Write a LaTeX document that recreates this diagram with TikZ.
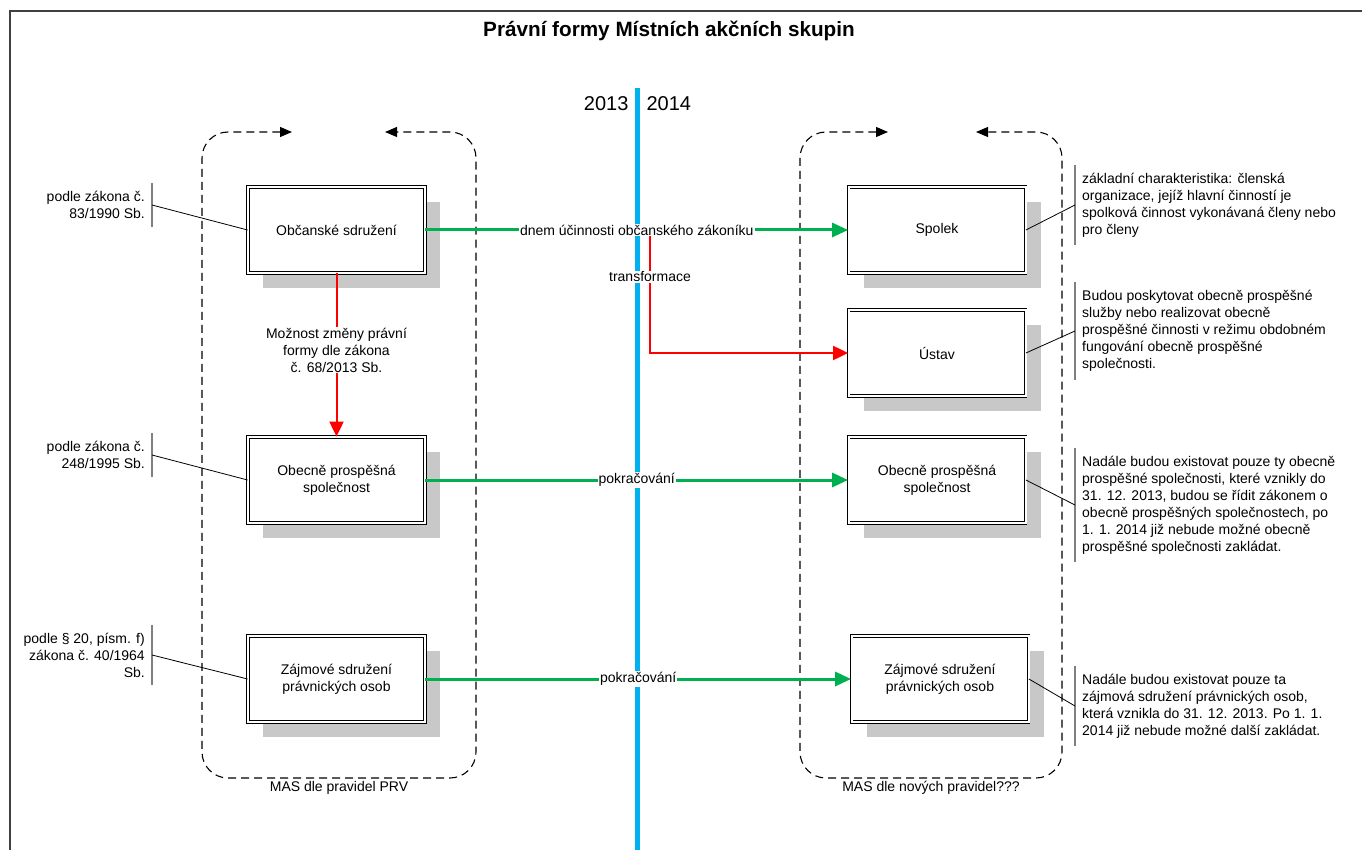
\documentclass[tikz,border=0pt]{standalone}
\usepackage{fontspec}
\setmainfont{Liberation Sans}
\usetikzlibrary{arrows.meta,shadows}
\definecolor{zelena}{HTML}{00B050}
\definecolor{modra}{HTML}{00B0F0}
\definecolor{cervena}{HTML}{FF0000}
\definecolor{ramec}{HTML}{404040}
\definecolor{stin}{HTML}{C8C8C8}

\begin{document}
\begin{tikzpicture}[x=1pt, y=-1pt,
font=\fontsize{14pt}{17pt}\selectfont,
formbox/.style={draw=black, line width=0.8pt, double=white, double distance=2pt, fill=white, minimum width=177pt, minimum height=86pt, align=center, inner sep=2pt, drop shadow={shadow xshift=15pt, shadow yshift=-15pt, fill=stin, opacity=1}},
skup/.style={draw=black, line width=1.1pt, dash pattern=on 8pt off 5pt, rounded corners=26pt, {Triangle[length=12pt,width=10pt]}-{Triangle[length=12pt,width=10pt]}},
zel/.style={draw=zelena, line width=3pt, -{Triangle[length=16pt,width=14pt]}},
cerv/.style={draw=cervena, line width=2pt, -{Triangle[length=15pt,width=14pt]}},
popis/.style={fill=white, inner sep=1pt, align=center},
poznL/.style={align=right, inner xsep=7pt, inner ysep=8pt, anchor=east},
poznR/.style={align=left, inner xsep=7pt, inner ysep=8pt, anchor=west},
pruh/.style={draw=gray, line width=1.5pt},
spoj/.style={draw=black, line width=0.8pt}
]
    \useasboundingbox (0,0) rectangle (1362,850);

    % ramecek a nadpis
    \draw[draw=ramec, line width=2pt] (1362,11) -- (10,11) -- (10,850);
    \node[font=\fontsize{20.7pt}{24pt}\selectfont\bfseries] (nadpis) at (669,31) {Právní formy Místních akčních skupin};

    % casova osa
    \draw[draw=modra, line width=5pt] (637,88) -- (637,850);
    \node[font=\fontsize{20pt}{24pt}\selectfont, anchor=east] (r2013) at (632,104) {2013};
    \node[font=\fontsize{20pt}{24pt}\selectfont, anchor=west] (r2014) at (643,104) {2014};

    % skupiny MAS
    \draw[skup] (292,132) -- (202,132) -- (202,778) -- (476,778) -- (476,132) -- (385,132);
    \node (prv) at (339,788) {MAS dle pravidel PRV};
    \draw[skup] (888,132) -- (800,132) -- (800,778) -- (1062,778) -- (1062,132) -- (976,132);
    \node (nova) at (931,788) {MAS dle nových pravidel???};

    % pravni formy
    \node[formbox] (os) at (336.5,230) {Občanské sdružení};
    \node[formbox] (ops) at (336.5,480) {Obecně prospěšná\\společnost};
    \node[formbox] (zsp) at (336.5,679) {Zájmové sdružení\\právnických osob};

    \node[formbox] (spolek) at (937,230) {Spolek};
    \node[formbox] (ustav) at (937,353) {Ústav};
    \node[formbox] (ops2) at (937,480) {Obecně prospěšná\\společnost};
    \node[formbox] (zsp2) at (940,679) {Zájmové sdružení\\právnických osob};

    % prechody
    \coordinate (tr) at (650,230);
    \draw[cerv] (tr) |- node[pos=0.19, popis] (trlbl) {transformace} (ustav.west);
    \draw[cerv] (os.south) -- node[pos=0.47, popis] (zmena) {Možnost změny právní\\formy dle zákona\\č. 68/2013 Sb.} (ops.north);
    \draw[zel] (os.east) -- node[popis] (ucinnost) {dnem účinnosti občanského zákoníku} (spolek.west);
    \draw[zel] (ops.east) -- node[popis] (pokr1) {pokračování} (ops2.west);
    \draw[zel] (zsp.east) -- node[popis] (pokr2) {pokračování} (zsp2.west);

    % poznamky vlevo
    \node[poznL] (p1) at (152,205) {podle zákona č.\\83/1990 Sb.};
    \node[poznL] (p2) at (152,455) {podle zákona č.\\248/1995 Sb.};
    \node[poznL] (p3) at (152,655) {podle § 20, písm. f)\\zákona č. 40/1964\\Sb.};
    \draw[pruh] (p1.north east) -- (p1.south east);
    \draw[pruh] (p2.north east) -- (p2.south east);
    \draw[pruh] (p3.north east) -- (p3.south east);
    \draw[spoj] (os.west) -- (p1.east);
    \draw[spoj] (ops.west) -- (p2.east);
    \draw[spoj] (zsp.west) -- (p3.east);

    % poznamky vpravo
    \node[poznR] (p4) at (1075,205) {základní charakteristika: členská\\organizace, jejíž hlavní činností je\\spolková činnost vykonávaná členy nebo\\pro členy};
    \node[poznR] (p5) at (1075,331) {Budou poskytovat obecně prospěšné\\služby nebo realizovat obecně\\prospěšné činnosti v režimu obdobném\\fungování obecně prospěšné\\společnosti.};
    \node[poznR] (p6) at (1075,505) {Nadále budou existovat pouze ty obecně\\prospěšné společnosti, které vznikly do\\31. 12. 2013, budou se řídit zákonem o\\obecně prospěšných společnostech, po\\1. 1. 2014 již nebude možné obecně\\prospěšné společnosti zakládat.};
    \node[poznR] (p7) at (1075,706) {Nadále budou existovat pouze ta\\zájmová sdružení právnických osob,\\která vznikla do 31. 12. 2013. Po 1. 1.\\2014 již nebude možné další zakládat.};
    \draw[pruh] (p4.north west) -- (p4.south west);
    \draw[pruh] (p5.north west) -- (p5.south west);
    \draw[pruh] (p6.north west) -- (p6.south west);
    \draw[pruh] (p7.north west) -- (p7.south west);
    \draw[spoj] (spolek.east) -- (p4.west);
    \draw[spoj] (ustav.east) -- (p5.west);
    \draw[spoj] (ops2.east) -- (p6.west);
    \draw[spoj] (zsp2.east) -- (p7.west);
\end{tikzpicture}
\end{document}
